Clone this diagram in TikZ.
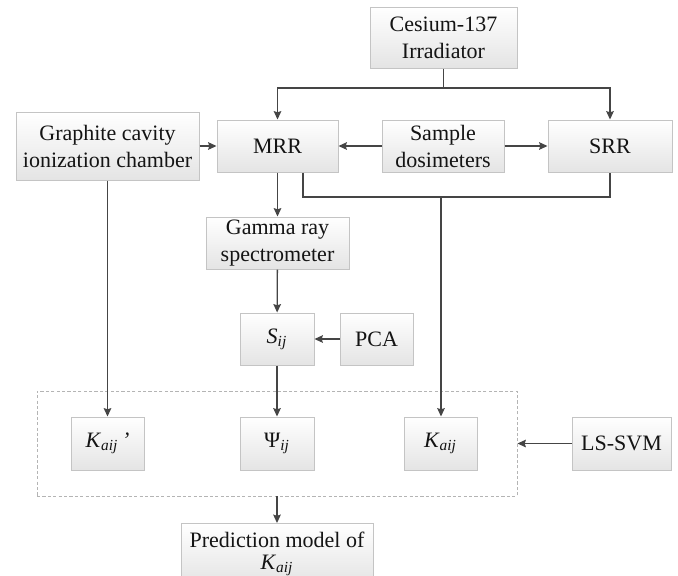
\documentclass[tikz,border=0pt]{standalone}
\usepackage{fontspec}
\setmainfont{Liberation Serif}
\usepackage{xcolor}
\usepackage{tikz}
\usetikzlibrary{arrows.meta,shadows}
\definecolor{boxline}{HTML}{C4C4C4}
\definecolor{boxtop}{HTML}{FFFFFF}
\definecolor{boxbot}{HTML}{E4E4E4}
\definecolor{arrline}{HTML}{454545}
\definecolor{grpline}{HTML}{B4B4B4}
\definecolor{ink}{HTML}{141414}
\tikzset{
  procBox/.style={draw=boxline, line width=0.5pt, top color=boxtop, bottom color=boxbot,
    inner sep=0pt, align=center, text=ink, font=\fontsize{11}{13.5}\selectfont,
    drop shadow={shadow xshift=0.6pt, shadow yshift=-0.6pt, fill=black, opacity=0.10}},
  grpBox/.style={draw=grpline, line width=0.45pt, dash pattern=on 1.6pt off 1.1pt, inner sep=0pt},
  flowLine/.style={draw=arrline, line width=0.65pt},
  flowArr/.style={flowLine, -{Stealth[length=4.2pt, width=3.8pt, inset=0.6pt]}},
}
\newcommand{\KaijTxt}{\textit{K}\textsubscript{\textit{aij}}}
\newcommand{\SijTxt}{\textit{S}\textsubscript{\textit{ij}}}

\begin{document}
\begin{tikzpicture}[x=0.5pt, y=-0.5pt]
  \useasboundingbox (0,0) rectangle (678,575);
  \fill[white] (0,0) rectangle (678,575);

  % boxes, pixel grid of the original
  \node[procBox, minimum width=73.5pt, minimum height=30.5pt] (cs)  at (443.5,37.5) {Cesium-137\\Irradiator};
  \node[procBox, minimum width=91.5pt, minimum height=34pt]   (gc)  at (107.5,146)  {Graphite cavity\\ionization chamber};
  \node[procBox, minimum width=60.5pt, minimum height=26pt]   (mrr) at (277.5,146)  {MRR};
  \node[procBox, minimum width=61pt,   minimum height=26pt]   (sd)  at (443,146)    {Sample\\dosimeters};
  \node[procBox, minimum width=62pt,   minimum height=26pt]   (srr) at (610,146)    {SRR};
  \node[procBox, minimum width=71.5pt, minimum height=26pt]   (gm)  at (277.5,243)  {Gamma ray\\spectrometer};
  \node[procBox, minimum width=37pt,   minimum height=26pt]   (sij) at (277,339)    {\SijTxt};
  \node[procBox, minimum width=36.5pt, minimum height=26pt]   (pca) at (376.5,339)  {PCA};

  \node[grpBox, minimum width=240pt, minimum height=52.5pt] (grp) at (277,443.5) {};
  \node[procBox, minimum width=36.5pt, minimum height=26.5pt] (kp)  at (107.5,443.5) {\KaijTxt\,\textit{’}};
  \node[procBox, minimum width=37pt,   minimum height=26.5pt] (psi) at (277,443.5)   {Ψ\textsubscript{\textit{ij}}};
  \node[procBox, minimum width=36.5pt, minimum height=26.5pt] (ka)  at (440.5,443.5) {\KaijTxt};
  \node[procBox, minimum width=49.5pt, minimum height=26.5pt] (ls)  at (621.5,443.5) {LS-SVM};
  \node[procBox, minimum width=96pt, inner ysep=4pt, anchor=north,
        font=\fontsize{11}{11}\selectfont] (pm) at (277,523) {Prediction model of\\\KaijTxt};

  \coordinate (split) at (443.5,88);
  \coordinate (join)  at (441,197);

  \draw[flowLine] (cs) -- (split);
  \draw[flowArr] (split) -| (mrr);
  \draw[flowArr] (split) -| (srr);
  \draw[flowArr] (gc) -- (mrr);
  \draw[flowArr] (sd) -- (mrr);
  \draw[flowArr] (sd) -- (srr);
  \draw[flowArr] (mrr) -- (gm);
  \draw[flowLine] ([xshift=12.75pt]mrr.south) |- (join) -| (srr.south);
  \draw[flowArr] (join) -- (join |- ka.north);
  \draw[flowArr] (gm) -- (sij);
  \draw[flowArr] (pca) -- (sij);
  \draw[flowArr] (sij) -- (psi);
  \draw[flowArr] (gc) -- (kp);
  \draw[flowArr] (ls) -- (grp.east);
  \draw[flowArr] (grp.south) -- (pm.north);
\end{tikzpicture}
\end{document}
